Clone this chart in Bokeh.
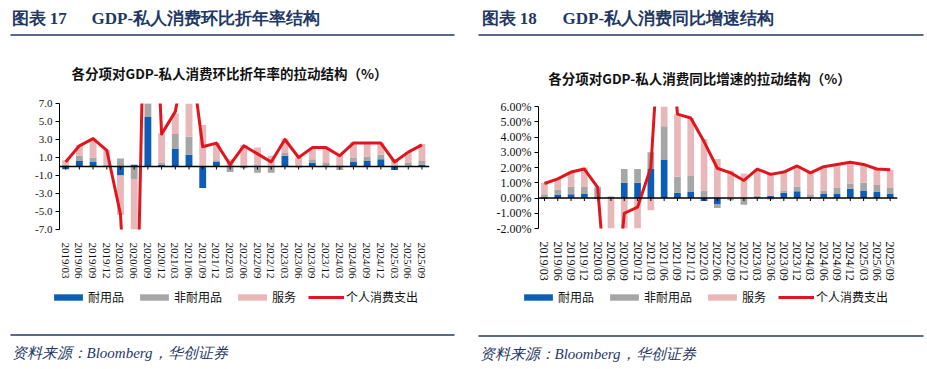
import math
import numpy as np
from bokeh.plotting import figure
from bokeh.models import (Range1d, FixedTicker, PrintfTickFormatter, Span, Legend, LegendItem,
                          Label, BoxAnnotation)
from bokeh.layouts import row, column
from bokeh.embed import file_html
from bokeh.resources import INLINE

# ---------------- data ----------------
quarters = ["2019/03", "2019/06", "2019/09", "2019/12",
            "2020/03", "2020/06", "2020/09", "2020/12",
            "2021/03", "2021/06", "2021/09", "2021/12",
            "2022/03", "2022/06", "2022/09", "2022/12",
            "2023/03", "2023/06", "2023/09", "2023/12",
            "2024/03", "2024/06", "2024/09", "2024/12",
            "2025/03", "2025/06", "2025/09"]

# Chart 17: QoQ annualized contributions (%)
qoq_durable = [-0.3, 0.6, 0.5, 0.1, -1.0, 0.2, 5.5, 0.2, 2.0, 1.3, -2.4, 0.5, 0.1, -0.1,
               0.1, 0.0, 1.2, 0.0, 0.4, 0.1, 0.1, 0.5, 0.6, 0.8, -0.4, 0.1, 0.2]
qoq_nondurable = [0.2, 0.6, 0.5, 0.1, 0.9, -1.4, 4.0, 0.2, 1.6, 2.0, 0.1, 0.2, -0.6, -0.1,
                  -0.7, -0.7, 0.3, -0.1, 0.4, 0.3, -0.4, 0.5, 0.5, 0.5, 0.1, 0.3, 0.4]
qoq_services = [0.5, 1.2, 2.1, 1.6, -4.4, -31.8, 28.5, 3.3, 2.3, 10.7, 4.5, 1.9, 0.7, 2.4,
                2.0, 1.2, 1.6, 1.0, 1.3, 1.7, 1.3, 1.7, 1.6, 1.3, 0.7, 1.2, 1.9]
qoq_pce = [0.5, 2.3, 3.1, 1.8, -5.3, -33.0, 38.0, 3.6, 6.1, 14.0, 2.2, 2.6, 0.2, 2.3,
           1.4, 0.5, 3.0, 1.0, 2.1, 2.1, 1.2, 2.6, 2.6, 2.6, 0.5, 1.6, 2.4]

# Chart 18: YoY contributions (%)
yoy_durable = [-0.05, 0.2, 0.25, 0.3, -0.05, 0.05, 1.0, 1.0, 1.9, 2.5, 0.35, 0.4, -0.2, -0.4,
               0.0, 0.0, 0.05, 0.15, 0.35, 0.45, 0.05, 0.3, 0.3, 0.6, 0.5, 0.4, 0.3]
yoy_nondurable = [0.25, 0.35, 0.5, 0.45, 0.7, 0.05, 0.9, 0.9, 1.1, 2.2, 1.05, 1.05, 0.5, -0.25,
                  -0.15, -0.45, 0.1, -0.1, 0.15, 0.3, 0.2, 0.2, 0.35, 0.35, 0.5, 0.45, 0.35]
yoy_services = [0.75, 0.7, 0.95, 1.25, 0.05, -10.2, -2.9, -2.5, -0.8, 11.3, 4.1, 3.8, 3.37, 2.55,
                1.8, 1.6, 1.75, 1.5, 1.2, 1.35, 1.4, 1.55, 1.55, 1.4, 1.2, 1.05, 1.2]
yoy_pce = [0.95, 1.25, 1.7, 1.9, 0.7, -10.1, -1.0, -0.6, 2.0, 16.0, 5.5, 5.25, 3.7, 1.95,
           1.65, 1.15, 1.9, 1.55, 1.7, 2.1, 1.65, 2.05, 2.2, 2.35, 2.2, 1.9, 1.85]

series_names = ["耐用品", "非耐用品", "服务"]
line_name = "个人消费支出"

NAVY = "#1F3864"
BAR_COLORS = ["#0E5DB5", "#A6A6A6", "#E8B7B9"]
RED = "#E0161F"
SERIF = "Liberation Serif"
CJK = "Noto Sans CJK SC"

HEADER_H = 95
FOOTER_Y0, FOOTER_Y1 = 282, 368


def stack_bounds(series_list):
    n = len(series_list[0])
    pos = np.zeros(n)
    neg = np.zeros(n)
    out = []
    for s in series_list:
        s = np.asarray(s, dtype=float)
        bottom = np.where(s >= 0, pos, neg + s)
        top = np.where(s >= 0, pos + s, neg)
        pos = pos + np.clip(s, 0, None)
        neg = neg + np.clip(s, None, 0)
        out.append((bottom, top))
    return out


def blank_fig(px0, px1, y0, y1):
    p = figure(frame_width=px1 - px0, frame_height=y1 - y0, x_range=Range1d(px0, px1),
               y_range=Range1d(y1, y0), x_axis_location=None, y_axis_location=None,
               output_backend="svg", toolbar_location=None, min_border=0)
    p.grid.visible = False
    p.outline_line_color = None
    p.background_fill_color = None
    p.border_fill_color = None
    return p


def rule(p, x0, x1, y):
    p.add_layout(BoxAnnotation(left=x0, right=x1, top=y - 0.8, bottom=y + 0.8, fill_color=NAVY,
                               fill_alpha=1, line_color=None, level="overlay"))


def header(px0, px1, num, num_x, title, title_x, subtitle, sub_cx, sub_y, rule_x0, rule_x1):
    p = blank_fig(px0, px1, 0, HEADER_H)
    p.add_layout(Label(x=num_x, y=17.5, text=num, text_font=SERIF, text_font_style="bold",
                       text_font_size="17px", text_color=NAVY, text_baseline="middle"))
    p.add_layout(Label(x=title_x, y=17.5, text=title, text_font=SERIF, text_font_style="bold",
                       text_font_size="17px", text_color=NAVY, text_baseline="middle"))
    rule(p, rule_x0, rule_x1, 34.5)
    p.add_layout(Label(x=sub_cx, y=sub_y, text=subtitle, text_font=CJK, text_font_style="bold",
                       text_font_size="13.5px", text_color="#111111", text_align="center",
                       text_baseline="middle"))
    return p


def footer(px0, px1, rule_x0, rule_x1, legend_x0, legend_cy, dur, non, srv, pce):
    p = blank_fig(px0, px1, FOOTER_Y0, FOOTER_Y1)
    rule(p, rule_x0, rule_x1, 334.5)
    p.add_layout(Label(x=rule_x0 + 1, y=352.5, text="资料来源：Bloomberg，华创证券", text_font=SERIF,
                       text_font_style="italic", text_font_size="15px", text_color=NAVY,
                       text_baseline="middle"))
    # legend: hidden renderers carrying the series (only their styles are shown in the legend)
    xs = list(range(len(quarters)))
    rs = [p.vbar(x=xs, top=s, width=0.5, fill_color=c, line_color=None, visible=False)
          for s, c in zip([dur, non, srv], BAR_COLORS)]
    rs.append(p.line(x=xs, y=pce, line_color=RED, line_width=3, visible=False))
    items = [LegendItem(label=nm, renderers=[r]) for nm, r in zip(series_names + [line_name], rs)]
    lh = 14
    legend = Legend(items=items, orientation="horizontal",
                    location=(legend_x0 - px0, FOOTER_Y1 - (legend_cy + lh / 2)),
                    glyph_width=36, glyph_height=8, label_standoff=2, spacing=12,
                    label_text_font=CJK, label_text_font_size="12px", label_text_color="#111111",
                    label_height=lh, border_line_color=None, background_fill_alpha=0,
                    inactive_fill_alpha=0, margin=0, padding=0)
    p.add_layout(legend, "center")
    return p


def chart(L, W, R, mb_top, frame_h, mb_bottom, y0, y1, yticks, fmt, dur, non, srv, pce, tick_font):
    n = len(quarters)
    xs = list(range(n))
    p = figure(frame_width=W, frame_height=frame_h,
               x_range=Range1d(-0.45, n - 0.45), y_range=Range1d(y0, y1),
               output_backend="svg", toolbar_location=None,
               min_border_left=L, min_border_right=R,
               min_border_top=mb_top, min_border_bottom=mb_bottom)
    p.grid.visible = False
    p.outline_line_color = None
    p.background_fill_color = None
    p.border_fill_color = None

    for (bottom, top), color in zip(stack_bounds([dur, non, srv]), BAR_COLORS):
        p.vbar(x=xs, bottom=bottom, top=top, width=0.5, fill_color=color, line_color=None)

    p.add_layout(Span(location=0, dimension="width", line_color="black", line_width=1.5))
    tick_len = 3.0 * (y1 - y0) / frame_h
    p.segment(x0=xs, y0=[0] * n, x1=xs, y1=[-tick_len] * n, line_color="black", line_width=1)

    p.line(x=xs, y=pce, line_color=RED, line_width=3, line_join="round")

    p.yaxis.ticker = FixedTicker(ticks=yticks)
    p.yaxis.formatter = PrintfTickFormatter(format=fmt)
    p.yaxis.major_tick_out = 4
    p.yaxis.major_tick_in = 0
    p.yaxis.minor_tick_line_color = None
    p.yaxis.axis_line_color = "black"
    p.yaxis.major_tick_line_color = "black"
    p.yaxis.major_label_text_font = SERIF
    p.yaxis.major_label_text_font_size = tick_font
    p.yaxis.major_label_text_color = "#111111"
    p.yaxis.major_label_standoff = 3

    p.xaxis.ticker = FixedTicker(ticks=xs)
    p.xaxis.major_label_overrides = {i: q for i, q in enumerate(quarters)}
    p.xaxis.major_label_orientation = -math.pi / 2
    p.xaxis.axis_line_color = None
    p.xaxis.major_tick_line_color = None
    p.xaxis.minor_tick_line_color = None
    p.xaxis.major_label_text_font = SERIF
    p.xaxis.major_label_text_font_size = tick_font
    p.xaxis.major_label_text_color = "#111111"
    p.xaxis.major_label_standoff = 7
    return p


LX0, LX1 = 0, 465
RX0, RX1 = 465, 925

left_header = header(LX0, LX1, "图表 17", 11, "GDP-私人消费环比折年率结构", 91,
                     "各分项对GDP-私人消费环比折年率的拉动结构（%）", 229, 72, 10, 454)
left_chart = chart(59, 370, 36, 8, 126, 53, -7, 7, list(range(-7, 8, 2)), "%.1f",
                   qoq_durable, qoq_nondurable, qoq_services, qoq_pce, "11px")
left_footer = footer(LX0, LX1, 10, 454, 50, 298,
                     qoq_durable, qoq_nondurable, qoq_services, qoq_pce)

right_header = header(RX0, RX1, "图表 18", 481, "GDP-私人消费同比增速结构", 562,
                      "各分项对GDP-私人消费同比增速的拉动结构（%）", 699, 77, 478, 923)
right_chart = chart(73, 359, 28, 11, 122, 54, -2, 6, list(range(-2, 7)), "%.2f%%",
                    yoy_durable, yoy_nondurable, yoy_services, yoy_pce, "12px")
right_footer = footer(RX0, RX1, 478, 923, 520, 297,
                      yoy_durable, yoy_nondurable, yoy_services, yoy_pce)

layout = row(column(row(left_header), row(left_chart), row(left_footer)),
             column(row(right_header), row(right_chart), row(right_footer)))

open("out.html", "w").write(file_html(layout, INLINE))
